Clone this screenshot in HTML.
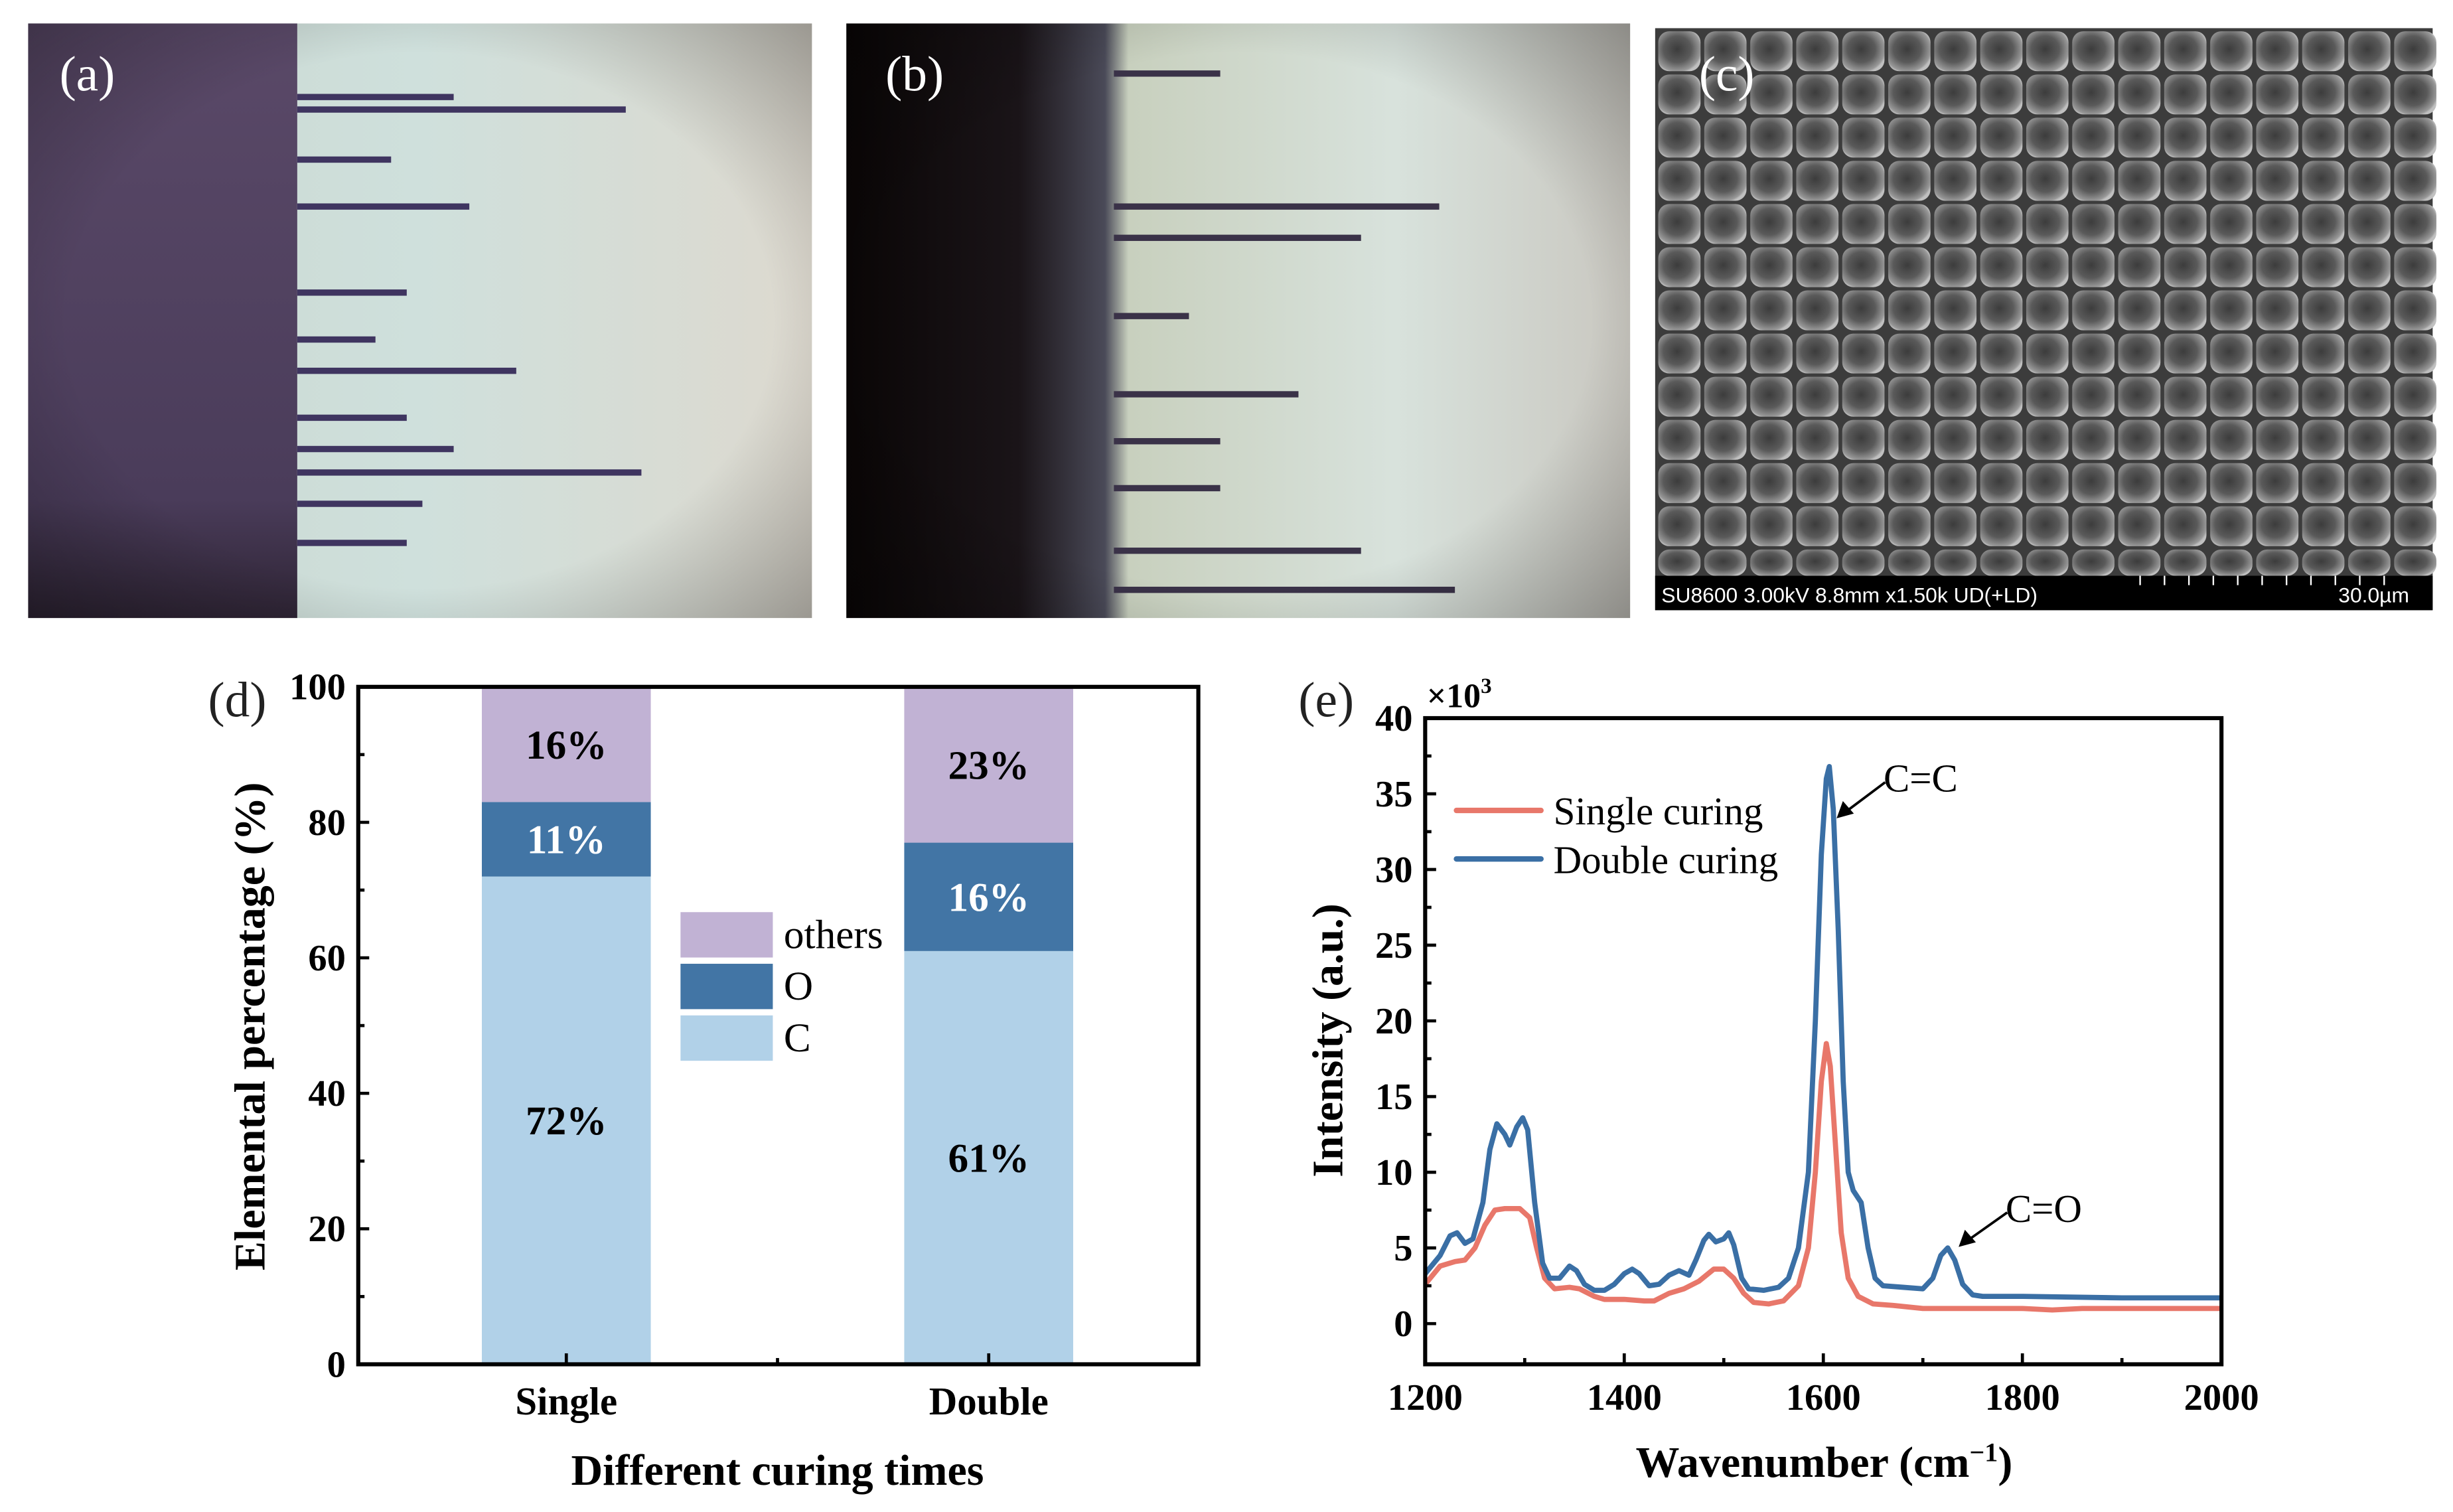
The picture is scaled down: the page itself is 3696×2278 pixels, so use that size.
<!DOCTYPE html>
<html><head><meta charset="utf-8"><style>
html,body{margin:0;padding:0;background:#fff;}
svg{display:block;font-family:"Liberation Serif",serif;}
</style></head><body>
<svg id="fig" width="3696" height="2278" viewBox="0 0 1568 966.4" xmlns="http://www.w3.org/2000/svg">
<defs>
  <linearGradient id="gA" x1="0" x2="1" y1="0" y2="0">
    <stop offset="0" stop-color="#c9d6cf"/><stop offset="0.5" stop-color="#cfe0dc"/><stop offset="1" stop-color="#ddd9cf"/>
  </linearGradient>
  <linearGradient id="gApurple" x1="0" x2="0" y1="0" y2="1">
    <stop offset="0" stop-color="#5a4968"/><stop offset="0.8" stop-color="#4a3c5a"/><stop offset="1" stop-color="#2e2434"/>
  </linearGradient>
  <linearGradient id="gB" x1="0" x2="1" y1="0" y2="0">
    <stop offset="0" stop-color="#0a0606"/><stop offset="0.22" stop-color="#1a1418"/><stop offset="0.33" stop-color="#4a4a58"/><stop offset="0.36" stop-color="#c8d0be"/><stop offset="0.7" stop-color="#d8e2dc"/><stop offset="1" stop-color="#c9c7c0"/>
  </linearGradient>
  <radialGradient id="vig" cx="0.5" cy="0.5" r="0.75">
    <stop offset="0.6" stop-color="#000" stop-opacity="0"/><stop offset="1" stop-color="#000" stop-opacity="0.35"/>
  </radialGradient>
  <radialGradient id="cell" cx="0.45" cy="0.45" r="0.6">
    <stop offset="0" stop-color="#3c3c3c"/><stop offset="0.55" stop-color="#5a5a5a"/><stop offset="0.92" stop-color="#999"/><stop offset="1" stop-color="#c0c0c0"/>
  </radialGradient>
  <clipPath id="clipE"><rect x="911" y="459" width="509" height="413"/></clipPath>
</defs>

<g>
  <rect x="18" y="15" width="501" height="380" fill="url(#gA)"/>
  <rect x="18" y="15" width="172" height="380" fill="url(#gApurple)"/>
  <g id="stripesA" fill="#3f3560"></g>
  <rect x="18" y="15" width="501" height="380" fill="url(#vig)"/>
  <text x="38" y="58" font-size="32" fill="#fff">(a)</text>
</g>
<g>
  <rect x="541" y="15" width="501" height="380" fill="url(#gB)"/>
  <g id="stripesB" fill="#3a3248"></g>
  <rect x="541" y="15" width="501" height="380" fill="url(#vig)"/>
  <text x="566" y="58" font-size="32" fill="#fff">(b)</text>
</g>
<g>
  <rect x="1058" y="18" width="497" height="372" fill="#3c3c3c"/>
  <g id="cells"></g>
  <rect x="1058" y="368" width="497" height="22" fill="#000"/>
  <text x="1062" y="385" font-family="Liberation Sans, sans-serif" font-size="13.5" fill="#fff">SU8600 3.00kV 8.8mm x1.50k UD(+LD)</text>
  <text x="1540" y="385" text-anchor="end" font-family="Liberation Sans, sans-serif" font-size="13.5" fill="#fff">30.0µm</text>
  <g id="scaleTicks" stroke="#fff" stroke-width="1"></g>
  <text x="1086" y="58" font-size="32" fill="#fff">(c)</text>
</g>

<g id="panelD">
  <text x="133" y="458" font-size="32" fill="#222">(d)</text>
  <g id="barsD"></g>
  <g id="axesD"></g>
  <g>
    <rect x="435" y="583" width="59" height="29" fill="#c1b2d4"/>
    <rect x="435" y="616" width="59" height="29" fill="#4275a5"/>
    <rect x="435" y="649" width="59" height="29" fill="#b1d1e8"/>
    <text x="501" y="606" font-size="26">others</text>
    <text x="501" y="639" font-size="26">O</text>
    <text x="501" y="672" font-size="26">C</text>
  </g>
  <text transform="translate(169,656) rotate(-90)" text-anchor="middle" font-size="28" font-weight="bold">Elemental percentage (%)</text>
  <text x="497" y="949" text-anchor="middle" font-size="28" font-weight="bold">Different curing times</text>
</g>

<g id="panelE">
  <text x="830" y="458" font-size="32" fill="#222">(e)</text>
  <text x="912" y="452" font-size="22" font-weight="bold">×10<tspan font-size="14" dy="-9">3</tspan></text>
  <g id="linesE" clip-path="url(#clipE)"></g>
  <g id="axesE"></g>
  <g>
    <line x1="931" y1="518" x2="985" y2="518" stroke="#e8776a" stroke-width="3.5" stroke-linecap="round"/>
    <line x1="931" y1="549" x2="985" y2="549" stroke="#3a6fa5" stroke-width="3.5" stroke-linecap="round"/>
    <text x="993" y="527" font-size="25">Single curing</text>
    <text x="993" y="558" font-size="25">Double curing</text>
  </g>
  <g>
    <text x="1204" y="506" font-size="25">C=C</text>
    <line x1="1205" y1="500" x2="1181" y2="518" stroke="#000" stroke-width="1.6"/>
    <polygon points="1174,523 1178,512 1185,520" fill="#000"/>
  </g>
  <g>
    <text x="1282" y="781" font-size="25">C=O</text>
    <line x1="1283" y1="775" x2="1259" y2="792" stroke="#000" stroke-width="1.6"/>
    <polygon points="1252,797 1256,786 1263,794" fill="#000"/>
  </g>
  <text transform="translate(858,665) rotate(-90)" text-anchor="middle" font-size="28" font-weight="bold">Intensity (a.u.)</text>
  <text x="1166" y="944" text-anchor="middle" font-size="28" font-weight="bold">Wavenumber (cm<tspan font-size="17" dy="-10">−1</tspan><tspan dy="10">)</tspan></text>
</g>
</svg>
<script>
const NS='http://www.w3.org/2000/svg';
const categories=['Single','Double'];
const valC=[72,61];
const valO=[11,16];
const valOthers=[16,23];
const labelC=['72%','61%'];
const labelO=['11%','16%'];
const labelOthers=['16%','23%'];
const yTicksD=[0,20,40,60,80,100];
const waveSingle=[1200,1215,1230,1240,1250,1260,1270,1280,1295,1305,1312,1320,1330,1345,1355,1370,1380,1400,1420,1430,1445,1460,1475,1490,1500,1510,1520,1530,1545,1560,1575,1585,1592,1598,1603,1607,1612,1618,1625,1635,1650,1670,1700,1750,1800,1830,1860,2000];
const intSingle=[2.6,3.8,4.1,4.2,5,6.5,7.5,7.6,7.6,7,5,3,2.3,2.4,2.3,1.8,1.6,1.6,1.5,1.5,2,2.3,2.8,3.6,3.6,3.0,2.0,1.4,1.3,1.5,2.5,5,10,16,18.5,17,12,6,3,1.8,1.3,1.2,1.0,1.0,1.0,0.9,1.0,1.0];
const waveDouble=[1200,1215,1225,1232,1240,1248,1258,1265,1272,1280,1285,1292,1298,1303,1310,1318,1325,1335,1345,1352,1360,1370,1380,1390,1400,1408,1415,1425,1435,1445,1455,1465,1472,1480,1485,1492,1500,1505,1510,1518,1525,1540,1555,1565,1575,1585,1592,1598,1603,1606,1610,1615,1620,1625,1630,1638,1645,1652,1660,1680,1700,1710,1718,1725,1732,1740,1750,1760,1800,1900,2000];
const intDouble=[3.3,4.5,5.8,6.0,5.3,5.6,8,11.5,13.2,12.5,11.8,13.0,13.6,12.8,8,4,3,3.0,3.8,3.5,2.6,2.2,2.2,2.6,3.3,3.6,3.3,2.5,2.6,3.2,3.5,3.2,4.2,5.5,5.9,5.4,5.6,6.0,5.2,3,2.3,2.2,2.4,3,5,10,20,31,36,36.8,34,26,16,10,8.8,8,5,3,2.5,2.4,2.3,3,4.5,5.0,4.2,2.6,1.9,1.8,1.8,1.7,1.7];
const xTicksE=[1200,1400,1600,1800,2000];
const yTicksE=[0,5,10,15,20,25,30,35,40];

function mk(tag,attrs,parent){const e=document.createElementNS(NS,tag);for(const k in attrs)e.setAttribute(k,attrs[k]);parent.appendChild(e);return e;}

const dL=229,dR=766,dT=439,dB=872;
const yD=v=>dB-(v/100)*(dB-dT);
const xD=i=>[362,632][i];
const bw=108;
const barsD=document.getElementById('barsD');
categories.forEach((c,i)=>{
  const segs=[[0,valC[i],'#b1d1e8',labelC[i],'#000','c'],[valC[i],valC[i]+valO[i],'#4275a5',labelO[i],'#fff','o'],[valC[i]+valO[i],100,'#c1b2d4',labelOthers[i],'#000','others']];
  segs.forEach(s=>{
    const r=mk('rect',{x:xD(i)-bw/2,y:yD(s[1]),width:bw,height:yD(s[0])-yD(s[1]),fill:s[2]},barsD);
    
    
    const t=mk('text',{x:xD(i),y:(yD(s[0])+yD(s[1]))/2+9,'text-anchor':'middle','font-size':'26','font-weight':'bold',fill:s[4]},barsD);
    t.textContent=s[3];
    
    
  });
});
const axD=document.getElementById('axesD');
const frameD=mk('rect',{x:dL,y:dT,width:dR-dL,height:dB-dT,fill:'none',stroke:'#000','stroke-width':2.6},axD);


for(let v=0;v<=100;v+=10){
  const major=v%20===0;
  mk('line',{x1:dL,x2:dL+(major?7:4),y1:yD(v),y2:yD(v),stroke:'#000','stroke-width':2},axD);
}
yTicksD.forEach(v=>{
  const t=mk('text',{x:dL-8,y:yD(v)+8,'text-anchor':'end','font-size':'24','font-weight':'bold'},axD);
  t.textContent=v;
  
  
});
categories.forEach((c,i)=>{
  mk('line',{x1:xD(i),x2:xD(i),y1:dB,y2:dB-7,stroke:'#000','stroke-width':2},axD);
  const t=mk('text',{x:xD(i),y:dB+32,'text-anchor':'middle','font-size':'25','font-weight':'bold'},axD);
  t.textContent=c;
  
  
});
mk('line',{x1:497,x2:497,y1:dB,y2:dB-4,stroke:'#000','stroke-width':2},axD);

const eL=911,eR=1420,eT=459,eB=872,y0=846,ymax=40;
const xE=v=>eL+(v-1200)/800*(eR-eL);
const yE=v=>y0-v/ymax*(y0-eT);
const linesE=document.getElementById('linesE');
function drawLine(xs,ys,color,name){
  const d=xs.map((x,i)=>(i?'L':'M')+xE(x).toFixed(2)+','+yE(ys[i]).toFixed(2)).join(' ');
  const p=mk('path',{d:d,fill:'none',stroke:color,'stroke-width':3.3,'stroke-linejoin':'round'},linesE);
  
  
}
drawLine(waveSingle,intSingle,'#e8776a','line-single-curing');
drawLine(waveDouble,intDouble,'#3a6fa5','line-double-curing');
const axE=document.getElementById('axesE');
const frameE=mk('rect',{x:eL,y:eT,width:eR-eL,height:eB-eT,fill:'none',stroke:'#000','stroke-width':2.6},axE);


for(let v=0;v<=40;v+=2.5){
  const major=v%5===0;
  mk('line',{x1:eL,x2:eL+(major?7:4),y1:yE(v),y2:yE(v),stroke:'#000','stroke-width':2},axE);
}
yTicksE.forEach(v=>{
  const t=mk('text',{x:eL-8,y:yE(v)+8,'text-anchor':'end','font-size':'24','font-weight':'bold'},axE);
  t.textContent=v;
  
  
});
for(let v=1200;v<=2000;v+=100){
  const major=v%200===0;
  mk('line',{x1:xE(v),x2:xE(v),y1:eB,y2:eB-(major?7:4),stroke:'#000','stroke-width':2},axE);
}
xTicksE.forEach(v=>{
  const t=mk('text',{x:xE(v),y:eB+29,'text-anchor':'middle','font-size':'24','font-weight':'bold'},axE);
  t.textContent=v;
  
  
});

const cells=document.getElementById('cells');
for(let r=0;r<13;r++)for(let c=0;c<17;c++){
  const x=1060+c*29.4,y=20+r*27.6;
  if(y>368)continue;
  mk('rect',{x:x,y:y,width:27,height:Math.min(25.5,368-y),rx:7,fill:'url(#cell)'},cells);
}
const st=document.getElementById('scaleTicks');
for(let i=0;i<11;i++){mk('line',{x1:1368+i*15.6,x2:1368+i*15.6,y1:368,y2:374},st);}
const sa=document.getElementById('stripesA');
const aRows=[[60,290],[68,400],[100,250],[130,300],[185,260],[215,240],[235,330],[265,260],[285,290],[300,410],[320,270],[345,260]];
aRows.forEach(r=>mk('rect',{x:190,y:r[0],width:r[1]-190,height:4,'stroke-dasharray':'3 2'},sa));
const sb=document.getElementById('stripesB');
const bRows=[[45,780],[130,920],[150,870],[200,760],[250,830],[280,780],[310,780],[350,870],[375,930]];
bRows.forEach(r=>mk('rect',{x:712,y:r[0],width:r[1]-712,height:4},sb));
</script>
</body></html>
